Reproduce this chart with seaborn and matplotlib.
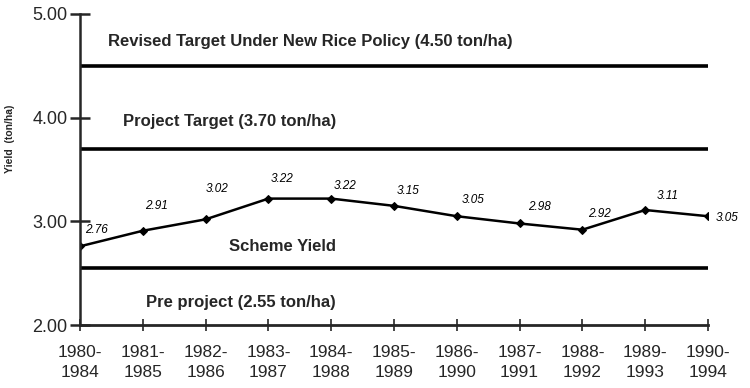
import matplotlib
matplotlib.use('Agg')

import pandas as pd
import numpy as np
import matplotlib.pyplot as plt
import seaborn as sns

# five-year periods and average scheme yield (ton/ha)
periods = ['1980-\n1984', '1981-\n1985', '1982-\n1986', '1983-\n1987', '1984-\n1988',
           '1985-\n1989', '1986-\n1990', '1987-\n1991', '1988-\n1992', '1989-\n1993',
           '1990-\n1994']
scheme_yield = [2.76, 2.91, 3.02, 3.22, 3.22, 3.15, 3.05, 2.98, 2.92, 3.11, 3.05]

# reference levels
revised_target = 4.50
project_target = 3.70
pre_project = 2.55

# nudges for the value labels (points)
label_dx = [12, 10, 8, 10, 10, 10, 12, 14, 12, 16, 14]
label_dy = [12, 18, 22, 14, 9, 11, 12, 12, 11, 10, -1]

sns.set_style('ticks')
plt.rcParams['font.family'] = ['Liberation Sans', 'DejaVu Sans']

df = pd.DataFrame({'x': np.arange(len(periods)), 'yield': scheme_yield})

fig = plt.figure(figsize=(7.5, 3.88), dpi=100)
ax = fig.add_axes([0.1067, 0.162, 0.8373, 0.802])

for level in [revised_target, project_target, pre_project]:
    ax.axhline(level, xmin=0, xmax=1, color='black', lw=2.6, zorder=2)

sns.lineplot(data=df, x='x', y='yield', ax=ax, color='black', lw=1.8,
             marker='D', markersize=4.5, markeredgecolor='black', zorder=3)

for i, v in enumerate(scheme_yield):
    ax.annotate('%.2f' % v, (i, v), xytext=(label_dx[i], label_dy[i]),
                textcoords='offset points', ha='center', va='center',
                fontsize=8.5, fontstyle='italic', color='black')

ax.text(0.45, revised_target + 0.23, 'Revised Target Under New Rice Policy (%.2f ton/ha)' % revised_target,
        fontsize=12, fontweight='bold', va='center', ha='left')
ax.text(0.69, project_target + 0.26, 'Project Target (%.2f ton/ha)' % project_target,
        fontsize=12, fontweight='bold', va='center', ha='left')
ax.text(2.38, 2.76, 'Scheme Yield', fontsize=12, fontweight='bold', va='center', ha='left')
ax.text(1.05, pre_project - 0.33, 'Pre project (%.2f ton/ha)' % pre_project,
        fontsize=12, fontweight='bold', va='center', ha='left')

ax.set_xlim(0, len(periods) - 1)
ax.set_ylim(2, 5)
ax.set_xticks(df['x'])
ax.set_xticklabels(periods, fontsize=12.5, linespacing=1.45)
ax.set_yticks([2, 3, 4, 5])
ax.set_yticklabels(['%.2f' % t for t in [2, 3, 4, 5]], fontsize=13)
ax.tick_params(axis='y', direction='inout', length=14, width=1.8, pad=2)
ax.tick_params(axis='x', direction='inout', length=8, width=1.2, pad=10)

ax.set_xlabel('')
ax.set_ylabel('Yield  (ton/ha)', fontsize=7.5, fontweight='bold')
ax.yaxis.set_label_coords(-0.104, 0.6)

sns.despine(ax=ax)
ax.spines['left'].set_linewidth(1.8)
ax.spines['bottom'].set_linewidth(2.0)
for sp in ['left', 'bottom']:
    ax.spines[sp].set_zorder(4)

fig.savefig('out.png', dpi=100)
